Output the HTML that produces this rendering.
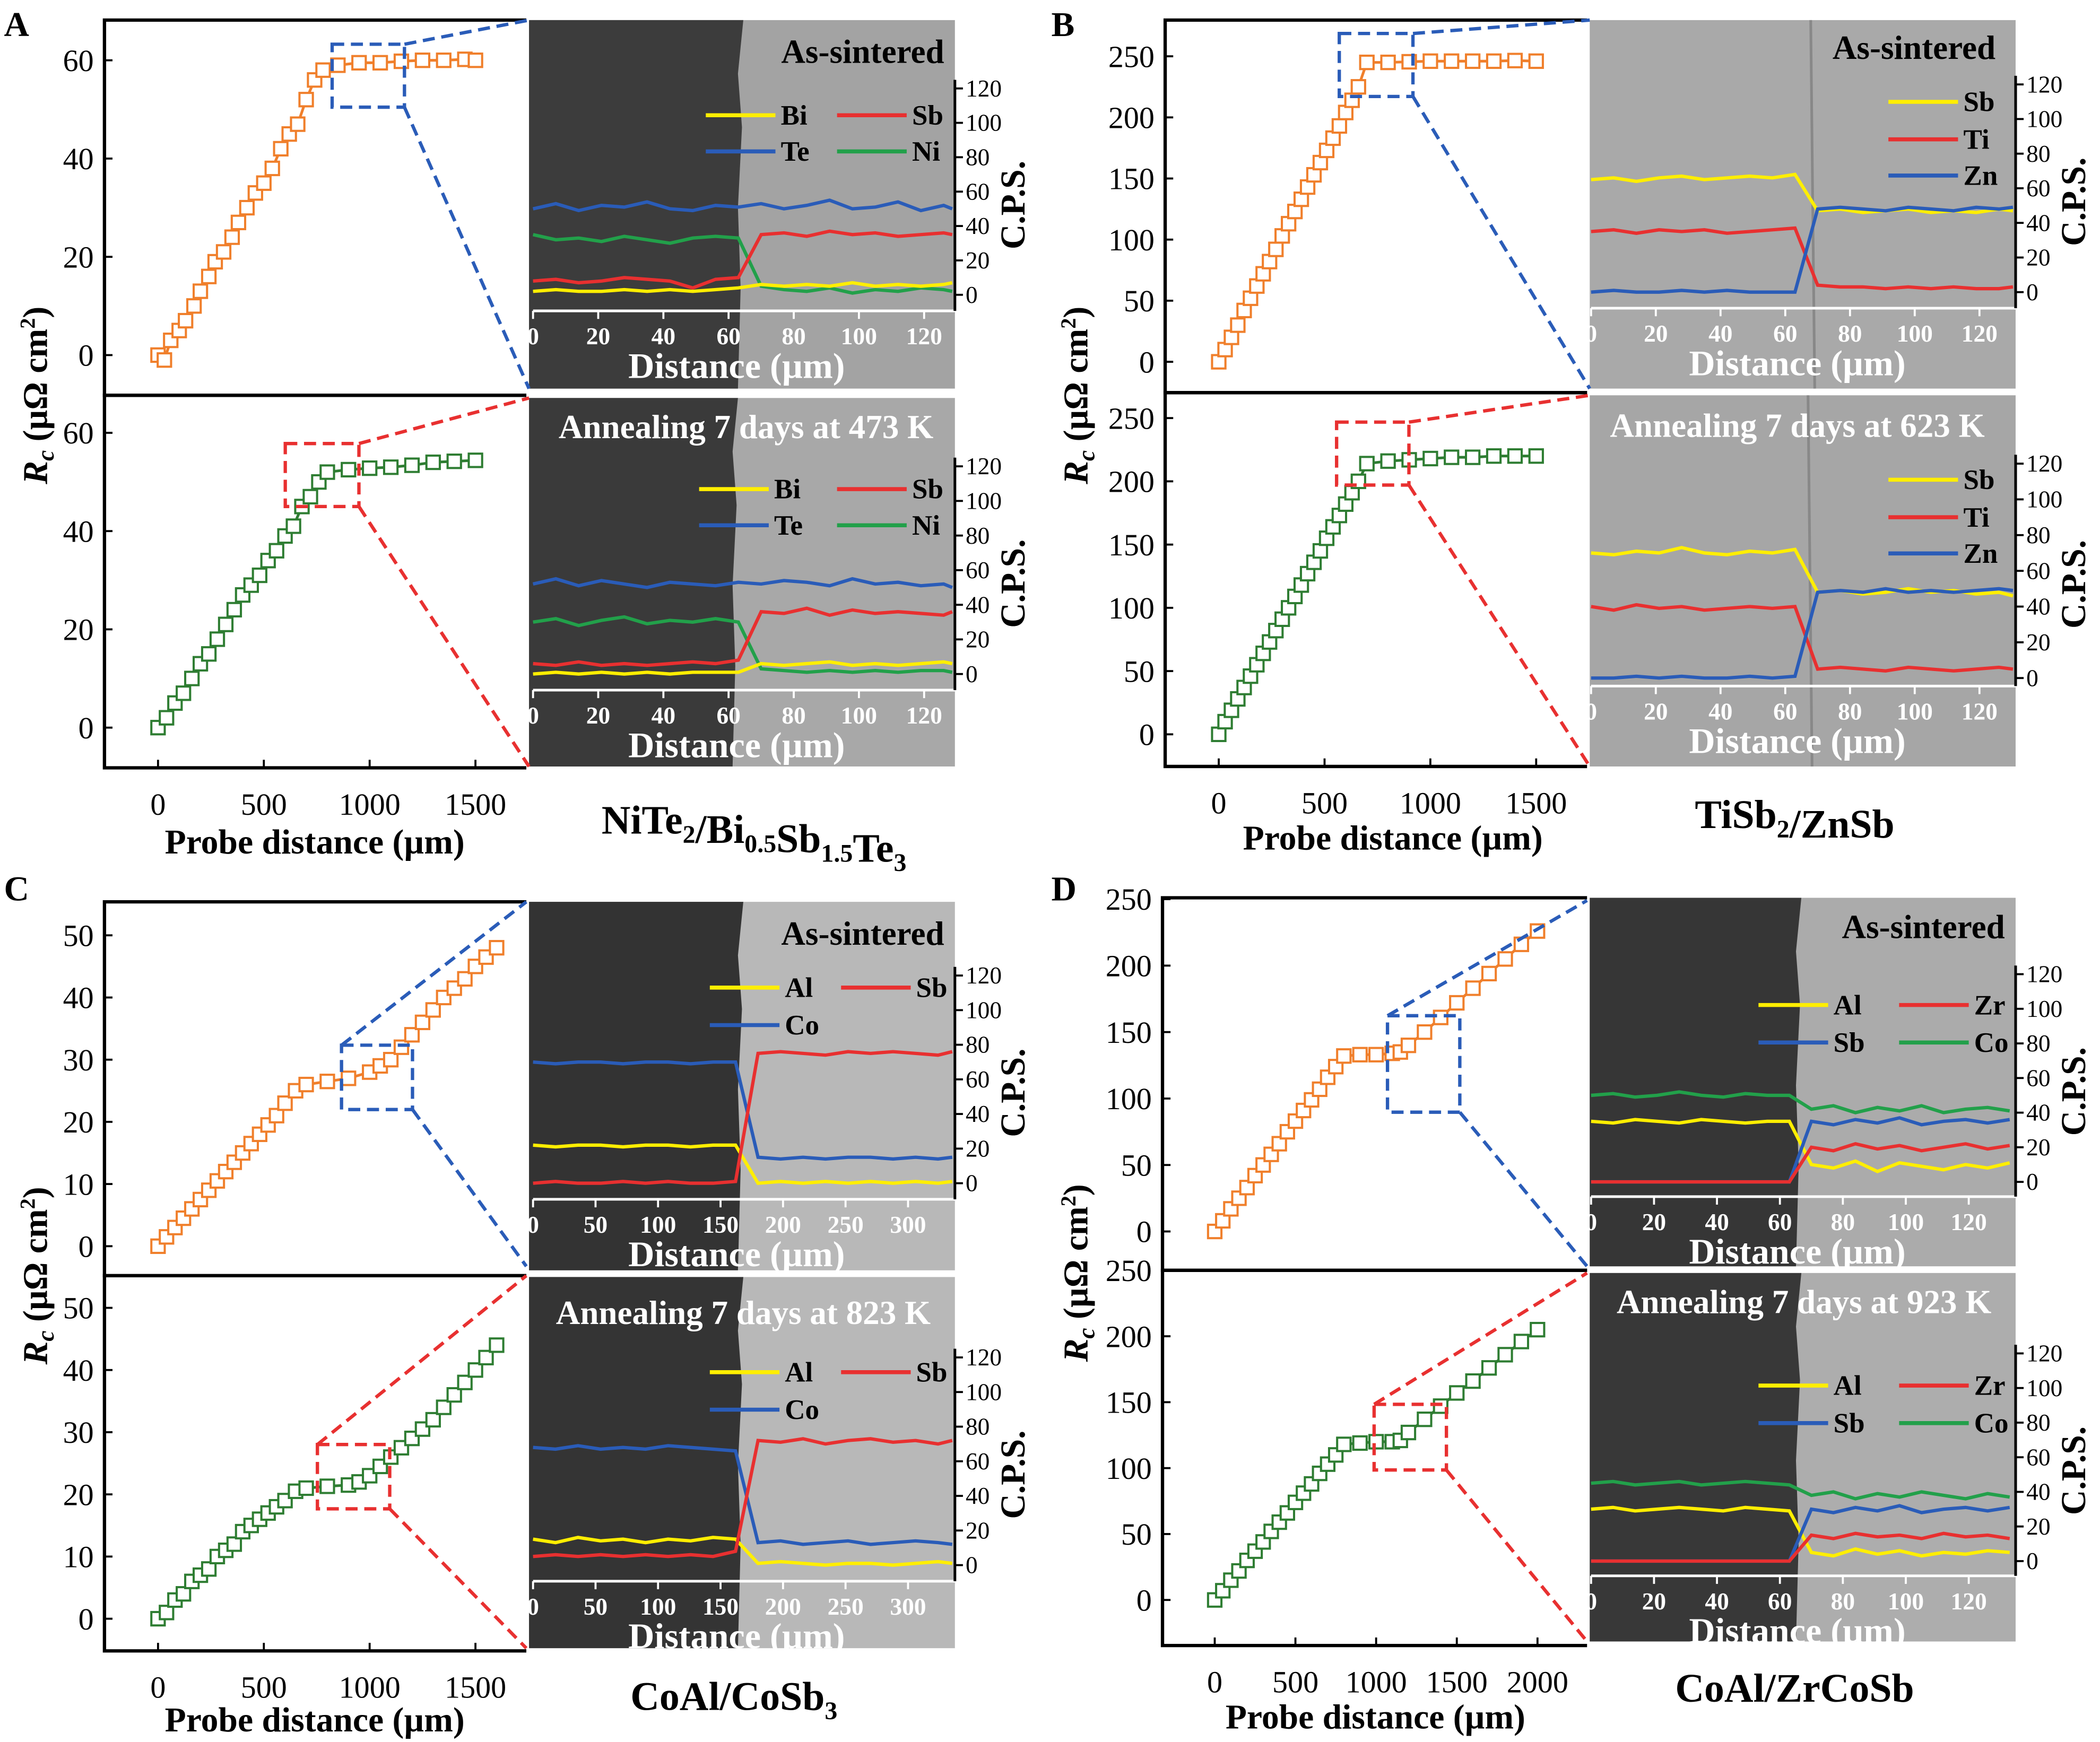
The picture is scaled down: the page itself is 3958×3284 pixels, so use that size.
<!DOCTYPE html>
<html><head><meta charset="utf-8">
<style>
html,body{margin:0;padding:0;background:#fff;}
svg{display:block;}
text{font-family:"Liberation Serif",serif;}
</style></head>
<body>
<svg id="fig" xmlns="http://www.w3.org/2000/svg" width="3958" height="3284" viewBox="0 0 1568 1300" preserveAspectRatio="none"></svg>
<script>
// ---------- Rc data (probe distance µm, Rc µΩ cm2) ----------
const aTopX=[0,30,60,100,130,170,200,240,270,310,350,380,420,460,500,540,580,620,660,700,740,780,850,950,1050,1150,1250,1350,1450,1500];
const aTopY=[0,-1,3,5,7,10,13,16,19,21,24,27,30,33,35,38,42,45,47,52,56,58,59,59.5,59.5,59.8,60,60,60.2,60];
const aBotX=[0,40,80,120,160,200,240,280,320,360,400,440,480,520,560,600,640,680,720,760,800,900,1000,1100,1200,1300,1400,1500];
const aBotY=[0,2,5,7,10,13,15,18,21,24,27,29,31,34,36,39,41,45,47,50,52,52.5,52.8,53,53.4,54,54.2,54.4];
const bTopX=[0,30,60,90,120,150,180,210,240,270,300,330,360,390,420,450,480,510,540,570,600,630,660,700,800,900,1000,1100,1200,1300,1400,1500];
const bTopY=[0,10,20,30,42,52,62,72,82,92,103,113,123,133,143,153,163,173,183,193,204,214,225,245,245,245.5,246,246,246,246,246.5,246];
const bBotX=[0,30,60,90,120,150,180,210,240,270,300,330,360,390,420,450,480,510,540,570,600,630,660,700,800,900,1000,1100,1200,1300,1400,1500];
const bBotY=[0,10,19,28,37,46,55,64,73,82,91,100,109,118,127,136,145,155,164,173,182,191,200,214,216,217,218,219,219,220,220,220];
const cTopX=[0,40,80,120,160,200,240,280,320,360,400,440,480,520,560,600,650,700,800,900,1000,1050,1100,1150,1200,1250,1300,1350,1400,1450,1500,1550,1600];
const cTopY=[0,1.5,3,4.5,6,7.5,9,10.5,12,13.5,15,16.5,18,19.5,21,23,25,26,26.5,27,28,29,30,32,34,36,38,40,41.5,43,45,46.5,48];
const cBotX=[0,40,80,120,160,200,240,280,320,360,400,440,480,520,560,600,650,700,800,900,950,1000,1050,1100,1150,1200,1250,1300,1350,1400,1450,1500,1550,1600];
const cBotY=[0,1,3,4,6,7,8,10,11,12,14,15,16,17,18,19,20.5,21,21.3,21.5,22,23,24.5,26,27.5,29,30.5,32,34,36,38,40,42,44];
const dTopX=[0,50,100,150,200,250,300,350,400,450,500,550,600,650,700,750,800,900,1000,1100,1150,1200,1300,1400,1500,1600,1700,1800,1900,2000];
const dTopY=[0,8,17,25,33,42,50,58,66,75,83,91,99,107,116,124,132,133,133,134,135,140,150,161,172,183,194,205,216,226];
const dBotX=[0,50,100,150,200,250,300,350,400,450,500,550,600,650,700,750,800,900,1000,1100,1150,1200,1300,1400,1500,1600,1700,1800,1900,2000];
const dBotY=[0,7,15,22,30,37,44,52,59,66,74,81,88,96,103,110,118,119,120,120,121,127,137,147,157,166,176,186,196,205];

// ---------- EDS data (distance µm, counts) ----------
const edsX=[0,7,14,21,28,35,42,49,56,63,70,77,84,91,98,105,112,119,126,133];
const edsXC=[0,18,36,54,72,90,108,126,144,162,180,198,216,234,252,270,288,306,324,342];
const aTe1=[50,53,49,52,51,54,50,49,52,51,53,50,52,55,50,51,54,49,52,50];
const aNi1=[35,32,33,31,34,32,30,33,34,33,5,3,2,4,1,3,2,4,3,2];
const aSb1=[8,9,7,8,10,9,8,4,9,10,35,36,34,37,35,36,34,35,36,35];
const aBi1=[2,3,2,2,3,2,3,2,3,4,6,5,6,5,7,5,6,5,6,7];
const aTe2=[52,55,51,54,52,50,53,52,51,53,52,54,53,51,55,52,53,51,52,50];
const aNi2=[30,32,28,31,33,29,31,30,32,30,3,2,1,2,1,2,1,2,2,1];
const aSb2=[6,5,7,5,6,5,6,7,6,8,36,35,38,34,37,35,36,35,34,36];
const aBi2=[0,1,0,1,0,1,0,1,1,1,6,5,6,7,5,6,5,6,7,6];
const bSb1=[65,66,64,66,67,65,66,67,66,68,47,48,46,47,48,46,47,46,48,47];
const bTi1=[35,36,34,36,35,36,34,35,36,37,4,3,3,2,3,2,3,2,2,3];
const bZn1=[0,1,0,0,1,0,1,0,0,0,48,49,48,47,49,48,47,49,48,49];
const bSb2=[70,69,71,70,73,70,69,71,70,72,48,49,47,48,50,48,49,47,48,46];
const bTi2=[40,38,41,39,40,38,39,40,39,40,5,6,5,4,6,5,4,5,6,5];
const bZn2=[0,0,1,0,1,0,0,1,0,1,48,49,48,50,48,49,48,49,50,49];
const cCo1=[70,69,70,70,69,70,70,69,70,70,15,14,15,14,15,15,14,15,14,15];
const cAl1=[22,21,22,22,21,22,22,21,22,22,0,1,0,1,0,1,0,1,0,1];
const cSb1=[0,1,0,0,1,0,1,0,0,1,75,76,75,74,76,75,76,75,74,76];
const cCo2=[68,67,69,67,68,67,69,68,67,66,13,14,12,13,14,12,13,14,13,12];
const cAl2=[15,13,16,14,15,13,15,14,16,15,1,2,1,0,1,1,0,1,2,1];
const cSb2=[5,6,5,6,5,6,5,6,5,8,72,71,73,70,72,73,71,72,70,72];
const dCo1=[50,51,49,50,52,50,49,51,50,50,42,44,40,43,41,44,40,42,43,41];
const dAl1=[35,34,36,35,34,36,35,34,35,35,10,8,12,6,11,9,7,10,8,11];
const dSb1=[0,0,0,0,0,0,0,0,0,0,35,33,36,34,37,33,35,36,34,36];
const dZr1=[0,0,0,0,0,0,0,0,0,0,20,18,22,19,21,18,20,22,19,21];
const dCo2=[45,46,44,45,46,44,45,46,45,44,38,40,36,39,37,40,38,36,39,37];
const dAl2=[30,31,29,30,31,30,29,31,30,29,5,3,7,4,6,3,5,4,6,5];
const dSb2=[0,0,0,0,0,0,0,0,0,0,30,28,31,29,32,28,30,31,29,31];
const dZr2=[0,0,0,0,0,0,0,0,0,0,15,13,16,14,15,13,16,14,15,13];

const ORANGE='#f07f2b', GREEN='#2e7d32', YEL='#ffee00', RED='#e83030', BLUE='#2a5cb8', GRN2='#22a04a';
const NS='http://www.w3.org/2000/svg';
const svg=document.getElementById('fig');
function el(tag,attrs,parent,txt){const e=document.createElementNS(NS,tag);for(const k in attrs)e.setAttribute(k,attrs[k]);if(txt!==undefined)e.textContent=txt;(parent||svg).appendChild(e);return e;}
function lin(d0,d1,p0,p1){return v=>p0+(v-d0)*(p1-p0)/(d1-d0);}

function rcPlot(xs,ys,o){
  const g=el('g',{});
  
  
  const sx=lin(0,o.xmax,o.x0,o.x1), sy=lin(0,o.ymax,o.y0,o.y1);
  o.yt.forEach(t=>{
    const tl=el('line',{x1:o.L,x2:o.L+6,y1:sy(t),y2:sy(t),stroke:'#000','stroke-width':1.5},g);
    
    
    const tx=el('text',{x:o.L-8,y:sy(t)+8,'font-size':23,'text-anchor':'end'},g,String(t));
    
    
  });
  let d='';xs.forEach((x,i)=>{d+=(i?'L':'M')+sx(x)+' '+sy(ys[i]);});
  el('path',{d:d,fill:'none',stroke:o.color,'stroke-width':2},g);
  xs.forEach((x,i)=>{
    const r=el('rect',{x:sx(x)-5,y:sy(ys[i])-5,width:10,height:10,fill:'#fff',stroke:o.color,'stroke-width':1.6},g);
    
    
  });
  const fr=el('path',{d:`M${o.R} ${o.T}H${o.L}V${o.B}H${o.R}`,fill:'none',stroke:'#000','stroke-width':2.5},g);
  
  
  if(o.xt){o.xt.forEach(t=>{
    const tl=el('line',{x1:sx(t),x2:sx(t),y1:o.B,y2:o.B-6,stroke:'#000','stroke-width':1.5},g);
    
    
    const tx=el('text',{x:sx(t),y:o.B+35,'font-size':23,'text-anchor':'middle'},g,String(t));
    
    
  });}
}

function edsPanel(o){
  const g=el('g',{});
  
  
  const bg=el('rect',{x:o.ix0,y:o.iy0,width:o.ix1-o.ix0,height:o.iy1-o.iy0,fill:o.light},g);
  
  
  if(o.darkTo){el('path',{d:`M${o.ix0} ${o.iy0}H${o.darkTo}l-4 40l3 40l-3 60l2 60l-2 ${o.iy1-o.iy0-200}H${o.ix0}Z`,fill:o.dark},g);}
  else{el('line',{x1:o.bx,x2:o.bx+3,y1:o.iy0,y2:o.iy1,stroke:'#888','stroke-width':2},g);}
  const sx=lin(0,o.dmax,o.dx0,o.dx1), sy=lin(0,120,o.c0,o.c120);
  o.series.forEach(s=>{
    let d='';o.xs.forEach((x,i)=>{const xx=Math.min(sx(x),o.ix1-2);d+=(i?'L':'M')+xx+' '+sy(s.v[i]);});
    const p=el('path',{d:d,fill:'none',stroke:s.c,'stroke-width':2.5},g);
    
    
  });
  el('line',{x1:o.dx0,x2:o.ix1,y1:o.axY,y2:o.axY,stroke:'#fff','stroke-width':2},g);
  o.dt.forEach(t=>{
    el('line',{x1:sx(t),x2:sx(t),y1:o.axY,y2:o.axY+6,stroke:'#fff','stroke-width':1.5},g);
    const tx=el('text',{x:sx(t),y:o.axY+25,'font-size':18,'font-weight':'bold',fill:'#fff','text-anchor':'middle'},g,String(t));
    
    
  });
  const xl=el('text',{x:(o.ix0+o.ix1)/2-4,y:o.axY+50,'font-size':27,'font-weight':'bold',fill:'#fff','text-anchor':'middle'},g,'Distance (µm)');
  
  
  el('line',{x1:o.ix1,x2:o.ix1,y1:sy(125),y2:o.axY,stroke:'#000','stroke-width':2},g);
  [0,20,40,60,80,100,120].forEach(t=>{
    el('line',{x1:o.ix1,x2:o.ix1+6,y1:sy(t),y2:sy(t),stroke:'#000','stroke-width':1.5},g);
    const tx=el('text',{x:o.ix1+8,y:sy(t)+6,'font-size':18},g,String(t));
    
    
  });
  const cx=o.ix1+52, cy=(sy(0)+sy(120))/2+10;
  const yl=el('text',{x:cx,y:cy,'font-size':26,'font-weight':'bold','text-anchor':'middle',transform:`rotate(-90 ${cx} ${cy})`},g,'C.P.S.');
  
  
  const tt=el('text',{x:o.tx,y:o.ty,'font-size':25,'font-weight':'bold',fill:o.tcol,'text-anchor':o.tanchor},g,o.title);
  
  
  o.leg.forEach(l=>{
    el('line',{x1:l[0],x2:l[0]+52,y1:l[1],y2:l[1],stroke:l[3],'stroke-width':3},g);
    const lt=el('text',{x:l[0]+56,y:l[1]+7,'font-size':21,'font-weight':'bold'},g,l[2]);
    
    
  });
}

function zoomBox(x0,y0,x1,y1,col,lines){
  const g=el('g',{fill:'none',stroke:col,'stroke-width':2.5,'stroke-dasharray':'9 5'});
  
  
  el('rect',{x:x0,y:y0,width:x1-x0,height:y1-y0},g);
  lines.forEach(l=>el('line',{x1:l[0],y1:l[1],x2:l[2],y2:l[3]},g));
}
function txt(x,y,s,size,name,extra){const t=el('text',Object.assign({x:x,y:y,'font-size':size,'font-weight':'bold'},extra||{}));t.innerHTML=s;return t;}

// ===== Panel A =====
rcPlot(aTopX,aTopY,{name:'rc-plot-a-top',x0:118,x1:355,xmax:1500,y0:265,y1:45,ymax:60,yt:[0,20,40,60],L:78,R:393,T:15,B:295,color:ORANGE});
rcPlot(aBotX,aBotY,{name:'rc-plot-a-bottom',x0:118,x1:355,xmax:1500,y0:543,y1:323,ymax:60,yt:[0,20,40,60],xt:[0,500,1000,1500],L:78,R:393,T:295,B:573,color:GREEN});
edsPanel({name:'eds-a-top',ix0:395,ix1:713,iy0:15,iy1:290,light:'#a3a3a3',dark:'#3c3c3c',darkTo:555,dmax:120,dx0:398,dx1:690,c0:220,c120:66,axY:232,dt:[0,20,40,60,80,100,120],xs:edsX,
 series:[{n:'Te',c:BLUE,v:aTe1},{n:'Ni',c:GRN2,v:aNi1},{n:'Sb',c:RED,v:aSb1},{n:'Bi',c:YEL,v:aBi1}],
 title:'As-sintered',tx:705,ty:47,tcol:'#000',tanchor:'end',leg:[[527,86,'Bi',YEL],[625,86,'Sb',RED],[527,113,'Te',BLUE],[625,113,'Ni',GRN2]]});
edsPanel({name:'eds-a-bottom',ix0:395,ix1:713,iy0:297,iy1:572,light:'#a8a8a8',dark:'#3a3a3a',darkTo:551,dmax:120,dx0:398,dx1:690,c0:503,c120:348,axY:515,dt:[0,20,40,60,80,100,120],xs:edsX,
 series:[{n:'Te',c:BLUE,v:aTe2},{n:'Ni',c:GRN2,v:aNi2},{n:'Sb',c:RED,v:aSb2},{n:'Bi',c:YEL,v:aBi2}],
 title:'Annealing 7 days at 473 K',tx:557,ty:327,tcol:'#fff',tanchor:'middle',leg:[[522,365,'Bi',YEL],[625,365,'Sb',RED],[522,392,'Te',BLUE],[625,392,'Ni',GRN2]]});
zoomBox(248,33,302,80,BLUE,[[302,33,395,15],[302,80,395,290]]);
zoomBox(213,331,268,378,RED,[[268,331,395,297],[268,378,395,572]]);

// ===== Panel B =====
rcPlot(bTopX,bTopY,{name:'rc-plot-b-top',x0:910,x1:1147,xmax:1500,y0:270,y1:42,ymax:250,yt:[0,50,100,150,200,250],L:870,R:1185,T:15,B:293,color:ORANGE});
rcPlot(bBotX,bBotY,{name:'rc-plot-b-bottom',x0:910,x1:1147,xmax:1500,y0:548,y1:312,ymax:250,yt:[0,50,100,150,200,250],xt:[0,500,1000,1500],L:870,R:1185,T:293,B:572,color:GREEN});
edsPanel({name:'eds-b-top',ix0:1187,ix1:1505,iy0:15,iy1:290,light:'#a9a9a9',bx:1352,dmax:120,dx0:1188,dx1:1478,c0:218,c120:63,axY:230,dt:[0,20,40,60,80,100,120],xs:edsX,
 series:[{n:'Sb',c:YEL,v:bSb1},{n:'Ti',c:RED,v:bTi1},{n:'Zn',c:BLUE,v:bZn1}],
 title:'As-sintered',tx:1490,ty:44,tcol:'#000',tanchor:'end',leg:[[1410,76,'Sb',YEL],[1410,104,'Ti',RED],[1410,131,'Zn',BLUE]]});
edsPanel({name:'eds-b-bottom',ix0:1187,ix1:1505,iy0:295,iy1:572,light:'#a6a6a6',bx:1350,dmax:120,dx0:1188,dx1:1478,c0:506,c120:346,axY:512,dt:[0,20,40,60,80,100,120],xs:edsX,
 series:[{n:'Sb',c:YEL,v:bSb2},{n:'Ti',c:RED,v:bTi2},{n:'Zn',c:BLUE,v:bZn2}],
 title:'Annealing 7 days at 623 K',tx:1342,ty:326,tcol:'#fff',tanchor:'middle',leg:[[1410,358,'Sb',YEL],[1410,386,'Ti',RED],[1410,413,'Zn',BLUE]]});
zoomBox(1000,25,1055,72,BLUE,[[1055,25,1187,15],[1055,72,1187,290]]);
zoomBox(998,315,1052,362,RED,[[1052,315,1187,295],[1052,362,1187,572]]);

// ===== Panel C =====
rcPlot(cTopX,cTopY,{name:'rc-plot-c-top',x0:118,x1:355,xmax:1500,y0:930,y1:698,ymax:50,yt:[0,10,20,30,40,50],L:78,R:393,T:673,B:952,color:ORANGE});
rcPlot(cBotX,cBotY,{name:'rc-plot-c-bottom',x0:118,x1:355,xmax:1500,y0:1208,y1:976,ymax:50,yt:[0,10,20,30,40,50],xt:[0,500,1000,1500],L:78,R:393,T:952,B:1232,color:GREEN});
edsPanel({name:'eds-c-top',ix0:395,ix1:713,iy0:673,iy1:948,light:'#b8b8b8',dark:'#333333',darkTo:555,dmax:300,dx0:398,dx1:678,c0:883,c120:728,axY:895,dt:[0,50,100,150,200,250,300],xs:edsXC,
 series:[{n:'Co',c:BLUE,v:cCo1},{n:'Al',c:YEL,v:cAl1},{n:'Sb',c:RED,v:cSb1}],
 title:'As-sintered',tx:705,ty:705,tcol:'#000',tanchor:'end',leg:[[530,737,'Al',YEL],[628,737,'Sb',RED],[530,765,'Co',BLUE]]});
edsPanel({name:'eds-c-bottom',ix0:395,ix1:713,iy0:953,iy1:1230,light:'#b8b8b8',dark:'#343434',darkTo:555,dmax:300,dx0:398,dx1:678,c0:1168,c120:1013,axY:1180,dt:[0,50,100,150,200,250,300],xs:edsXC,
 series:[{n:'Co',c:BLUE,v:cCo2},{n:'Al',c:YEL,v:cAl2},{n:'Sb',c:RED,v:cSb2}],
 title:'Annealing 7 days at 823 K',tx:555,ty:988,tcol:'#fff',tanchor:'middle',leg:[[530,1024,'Al',YEL],[628,1024,'Sb',RED],[530,1052,'Co',BLUE]]});
zoomBox(255,780,308,828,BLUE,[[255,780,393,673],[308,828,393,945]]);
zoomBox(237,1078,291,1126,RED,[[237,1078,393,952],[291,1126,393,1230]]);

// ===== Panel D =====
rcPlot(dTopX,dTopY,{name:'rc-plot-d-top',x0:907,x1:1148,xmax:2000,y0:919,y1:671,ymax:250,yt:[0,50,100,150,200,250],L:868,R:1185,T:670,B:948,color:ORANGE});
rcPlot(dBotX,dBotY,{name:'rc-plot-d-bottom',x0:907,x1:1148,xmax:2000,y0:1194,y1:948,ymax:250,yt:[0,50,100,150,200,250],xt:[0,500,1000,1500,2000],L:868,R:1185,T:948,B:1228,color:GREEN});
edsPanel({name:'eds-d-top',ix0:1187,ix1:1505,iy0:670,iy1:945,light:'#ababab',dark:'#363636',darkTo:1345,dmax:120,dx0:1188,dx1:1470,c0:882,c120:727,axY:893,dt:[0,20,40,60,80,100,120],xs:edsX,
 series:[{n:'Co',c:GRN2,v:dCo1},{n:'Al',c:YEL,v:dAl1},{n:'Sb',c:BLUE,v:dSb1},{n:'Zr',c:RED,v:dZr1}],
 title:'As-sintered',tx:1497,ty:700,tcol:'#000',tanchor:'end',leg:[[1313,750,'Al',YEL],[1418,750,'Zr',RED],[1313,778,'Sb',BLUE],[1418,778,'Co',GRN2]]});
edsPanel({name:'eds-d-bottom',ix0:1187,ix1:1505,iy0:950,iy1:1225,light:'#adadad',dark:'#383838',darkTo:1345,dmax:120,dx0:1188,dx1:1470,c0:1165,c120:1010,axY:1176,dt:[0,20,40,60,80,100,120],xs:edsX,
 series:[{n:'Co',c:GRN2,v:dCo2},{n:'Al',c:YEL,v:dAl2},{n:'Sb',c:BLUE,v:dSb2},{n:'Zr',c:RED,v:dZr2}],
 title:'Annealing 7 days at 923 K',tx:1347,ty:980,tcol:'#fff',tanchor:'middle',leg:[[1313,1034,'Al',YEL],[1418,1034,'Zr',RED],[1313,1062,'Sb',BLUE],[1418,1062,'Co',GRN2]]});
zoomBox(1036,758,1090,830,BLUE,[[1036,758,1185,672],[1090,830,1185,945]]);
zoomBox(1026,1048,1080,1097,RED,[[1026,1048,1185,950],[1080,1097,1185,1225]]);

// ===== labels =====
txt(3,27,'A',26,'panel-label-a',{'font-family':'Liberation Sans, sans-serif'});
txt(785,27,'B',26,'panel-label-b',{'font-family':'Liberation Sans, sans-serif'});
txt(3,672,'C',26,'panel-label-c',{'font-family':'Liberation Sans, sans-serif'});
txt(785,672,'D',26,'panel-label-d',{'font-family':'Liberation Sans, sans-serif'});
txt(235,637,'Probe distance (µm)',26,'x-axis-title-a',{'text-anchor':'middle'});
txt(1040,634,'Probe distance (µm)',26,'x-axis-title-b',{'text-anchor':'middle'});
txt(235,1292,'Probe distance (µm)',26,'x-axis-title-c',{'text-anchor':'middle'});
txt(1027,1290,'Probe distance (µm)',26,'x-axis-title-d',{'text-anchor':'middle'});
const rcT='<tspan font-style="italic">R</tspan><tspan font-style="italic" font-size="18" dy="5">c</tspan><tspan dy="-5"> (µΩ cm</tspan><tspan font-size="16" dy="-9">2</tspan><tspan dy="9">)</tspan>';
[[35,295,'a'],[812,295,'b'],[35,952,'c'],[812,950,'d']].forEach(p=>{txt(p[0],p[1],rcT,26,'y-axis-title-'+p[2],{'text-anchor':'middle',transform:`rotate(-90 ${p[0]} ${p[1]})`});});
const sub=(s)=>`<tspan font-size="19" dy="7">${s}</tspan><tspan dy="-7"></tspan>`;
txt(563,622,'NiTe'+sub('2')+'/Bi'+sub('0.5')+'Sb'+sub('1.5')+'Te'+sub('3'),30,'material-label-a',{'text-anchor':'middle'});
txt(1340,618,'TiSb'+sub('2')+'/ZnSb',30,'material-label-b',{'text-anchor':'middle'});
txt(548,1276,'CoAl/CoSb'+sub('3'),30,'material-label-c',{'text-anchor':'middle'});
txt(1340,1270,'CoAl/ZrCoSb',30,'material-label-d',{'text-anchor':'middle'});
</script>
</body></html>
